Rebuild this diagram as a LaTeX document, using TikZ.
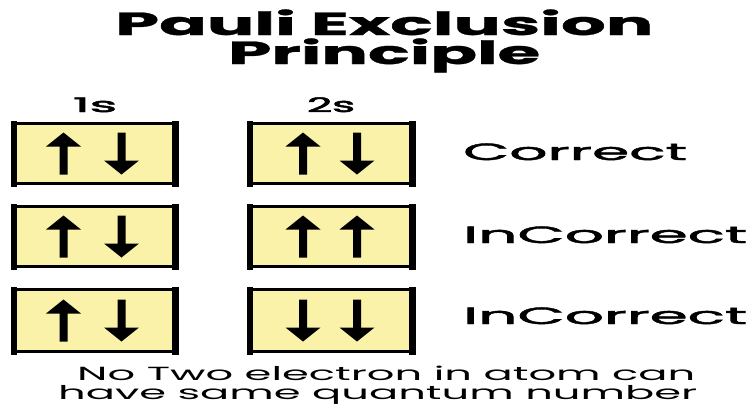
\documentclass[tikz,border=0pt]{standalone}
\usepackage{fontspec}
\setmainfont{Poppins}
\newfontfamily\medfont{Poppins}[FakeBold=1.6]
\newfontfamily\semifont{Poppins}[FakeBold=2.4]
\newfontfamily\heavyfont{Poppins}[BoldFeatures={FakeBold=0.8}]
\usepackage{graphicx}
\definecolor{boxfill}{RGB}{251,242,170}
\newcommand\drawbars[1]{%
  \fill ([shift={(-1.5pt,1.5pt)}]#1.north west) rectangle ([shift={(5pt,-1.5pt)}]#1.south west);
  \fill ([shift={(1.5pt,1.5pt)}]#1.north east) rectangle ([shift={(-5pt,-1.5pt)}]#1.south east);}
\tikzset{
  uparrow/.pic={\fill (-4,21) -- (4,21) -- (4,-7) -- (17.5,-7) -- (0,-21) -- (-17.5,-7) -- (-4,-7) -- cycle;},
  downarrow/.pic={\fill (-4,-21) -- (4,-21) -- (4,7) -- (17.5,7) -- (0,21) -- (-17.5,7) -- (-4,7) -- cycle;}
}
\begin{document}
\begin{tikzpicture}[x=1pt,y=-1pt,
  orbbox/.style={draw=black, line width=3pt, fill=boxfill, inner sep=0pt,
    minimum width=162pt, minimum height=60pt},
  titletext/.style={font=\fontsize{32}{32}\selectfont\heavyfont\bfseries, inner sep=0pt, anchor=base west},
  orblabel/.style={font=\fontsize{20}{20}\selectfont\semifont, inner sep=0pt, anchor=base},
  verdict/.style={font=\fontsize{23.5}{23.5}\selectfont\medfont, inner sep=0pt, anchor=base west},
  note/.style={font=\fontsize{19}{19}\selectfont, inner sep=0pt, anchor=base west}
]
\fill[white] (0,0) rectangle (753,405);
\useasboundingbox (0,0) rectangle (753,405);

% title
\node[titletext] (t1) at (115,35) {\resizebox{538pt}{\height}{Pauli Exclusion}};
\node[titletext] (t2) at (228,64) {\resizebox{312pt}{\height}{Principle}};

% orbital labels
\node[orblabel] (l1) at (95,112) {\resizebox{44pt}{\height}{1s}};
\node[orblabel] (l2) at (331,112) {\resizebox{48pt}{\height}{2s}};

% boxes
\node[orbbox] (a1) at (94.5,153.5) {};
\node[orbbox, minimum width=163pt] (b1) at (331,153.5) {};
\node[orbbox] (a2) at (94.5,236.5) {};
\node[orbbox, minimum width=163pt] (b2) at (331,236.5) {};
\node[orbbox, minimum height=62pt] (a3) at (94.5,320.5) {};
\node[orbbox, minimum width=163pt, minimum height=62pt] (b3) at (331,320.5) {};
\drawbars{a1}\drawbars{b1}\drawbars{a2}\drawbars{b2}\drawbars{a3}\drawbars{b3}

% arrows
\pic at ([xshift=-31pt]a1.center) {uparrow};
\pic at ([xshift=27pt]a1.center) {downarrow};
\pic at ([xshift=-28pt]b1.center) {uparrow};
\pic at ([xshift=26pt]b1.center) {downarrow};
\pic at ([xshift=-31pt]a2.center) {uparrow};
\pic at ([xshift=27pt]a2.center) {downarrow};
\pic at ([xshift=-28pt]b2.center) {uparrow};
\pic at ([xshift=26pt]b2.center) {uparrow};
\pic at ([xshift=-31pt]a3.center) {uparrow};
\pic at ([xshift=27pt]a3.center) {downarrow};
\pic at ([xshift=-28pt]b3.center) {downarrow};
\pic at ([xshift=26pt]b3.center) {downarrow};

% verdicts
\node[verdict] (v1) at (463,160) {\resizebox{224pt}{\height}{Correct}};
\node[verdict] (v2) at (463,243) {\resizebox{284pt}{\height}{InCorrect}};
\node[verdict] (v3) at (463,324) {\resizebox{284pt}{\height}{InCorrect}};

% note
\node[note] (n1) at (77,380) {\resizebox{618pt}{\height}{No Two electron in atom can}};
\node[note] (n2) at (58,399) {\resizebox{639pt}{\height}{have same quantum number}};
\end{tikzpicture}
\end{document}
